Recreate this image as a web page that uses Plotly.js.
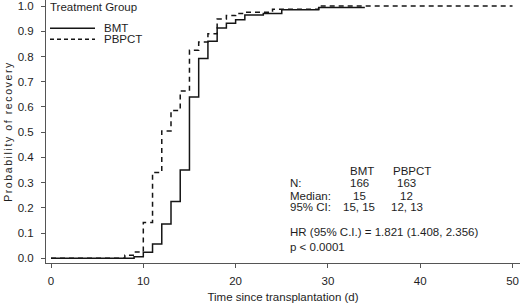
<!DOCTYPE html>
<html>
<head>
<meta charset="utf-8">
<script src="https://cdn.plot.ly/plotly-3.0.1.min.js"></script>
<style>html,body{margin:0;padding:0;background:#fff;}#chart{width:520px;height:303px;}</style>
</head>
<body>
<div id="chart"></div>
<script>
// ---- data ----
const bmtDays   = [0, 9, 10, 11, 12, 13, 14, 15, 16, 17, 18, 19, 20, 21, 23, 25, 29, 34];
const bmtProb   = [0, 0.006, 0.024, 0.057, 0.136, 0.225, 0.35, 0.639, 0.792, 0.86, 0.913, 0.932, 0.946, 0.964, 0.97, 0.985, 0.994, 0.994];
const pbpctDays = [0, 8, 9, 10, 11, 12, 13, 14, 15, 16, 17, 18, 19, 20, 21, 24, 29, 50];
const pbpctProb = [0, 0.012, 0.025, 0.142, 0.34, 0.505, 0.586, 0.663, 0.825, 0.857, 0.89, 0.948, 0.962, 0.97, 0.975, 0.987, 1.0, 1.0];
const groupNames = ['BMT', 'PBPCT'];
const statRowLabels = ['N:', 'Median:', '95% CI:'];
const bmtStats   = ['166', '15', '15, 15'];
const pbpctStats = ['163', '12', '12, 13'];
const hrText = 'HR (95% C.I.) = 1.821 (1.408, 2.356)';
const pText  = 'p < 0.0001';
const xTicks = [0, 10, 20, 30, 40, 50];
const yTicks = [0, 0.1, 0.2, 0.3, 0.4, 0.5, 0.6, 0.7, 0.8, 0.9, 1.0];

// ---- layout helpers (pixel -> paper) ----
const W = 520, H = 303, ML = 46, MR = 0, MT = 0, MB = 40;
const PW = W - ML - MR, PH = H - MT - MB;
const px = x => (x - ML) / PW;
const py = y => (H - MB - y) / PH;

const FONT = 'Liberation Sans, Arial, Helvetica, sans-serif';
const FS = 11.5;
const TXT = '#1e1e1e';
const LINE = '#151515';

const traces = [
  {x: bmtDays, y: bmtProb, name: groupNames[0], type: 'scatter', mode: 'lines',
   line: {shape: 'hv', color: LINE, width: 1.5}, showlegend: false, hoverinfo: 'skip'},
  {x: pbpctDays, y: pbpctProb, name: groupNames[1], type: 'scatter', mode: 'lines',
   line: {shape: 'hv', color: LINE, width: 1.5, dash: '5px,4px'}, showlegend: false, hoverinfo: 'skip'}
];

const ann = [];
const a = (text, x, y, xanchor) => ann.push({text, x: px(x), y: py(y), xref: 'paper', yref: 'paper',
  xanchor, yanchor: 'middle', showarrow: false, borderpad: 0, font: {family: FONT, size: FS, color: TXT}});

// legend (manual)
a('Treatment Group', 49, 6.7, 'left');
a(groupNames[0], 103, 28.3, 'left');
a(groupNames[1], 103, 39.3, 'left');
const shapes = [
  {type: 'line', xref: 'paper', yref: 'paper', x0: px(50), x1: px(95), y0: py(28.3), y1: py(28.3), line: {color: LINE, width: 1.4}},
  {type: 'line', xref: 'paper', yref: 'paper', x0: px(50), x1: px(95), y0: py(39.3), y1: py(39.3), line: {color: LINE, width: 1.4, dash: '4px,3px'}}
];

// stats block
a(groupNames[0], 362, 170.7, 'center');
a(groupNames[1], 411.5, 170.7, 'center');
const rowY = [183.3, 195.7, 207.3];
statRowLabels.forEach((t, i) => a(t, 289, rowY[i], 'left'));
bmtStats.forEach((t, i) => a(t, 359, rowY[i], 'center'));
pbpctStats.forEach((t, i) => a(t, 406.5, rowY[i], 'center'));
a(hrText, 289, 231.7, 'left');
a(pText, 289, 247.3, 'left');

const layout = {
  width: W, height: H,
  margin: {l: ML, r: MR, t: MT, b: MB, pad: 0},
  paper_bgcolor: '#fff', plot_bgcolor: '#fff',
  font: {family: FONT, size: FS, color: TXT},
  showlegend: false,
  xaxis: {
    range: [-0.542, 50.81], tickvals: xTicks, ticktext: xTicks.map(String),
    showgrid: false, zeroline: false, showline: true, linecolor: '#555', linewidth: 1,
    ticks: 'outside', ticklen: 4, tickcolor: '#555', tickwidth: 1,
    ticklabelstandoff: 3, ticklabeloverflow: 'allow',
    tickfont: {family: FONT, size: FS, color: TXT},
    title: {text: 'Time since transplantation (d)', font: {family: FONT, size: FS, color: TXT}, standoff: 7},
    automargin: false, fixedrange: true
  },
  yaxis: {
    range: [-0.0186, 1.0238], tickvals: yTicks, ticktext: yTicks.map(v => v.toFixed(1)),
    showgrid: false, zeroline: false, showline: true, linecolor: '#555', linewidth: 1,
    ticks: 'outside', ticklen: 4, tickcolor: '#555', tickwidth: 1,
    ticklabelstandoff: 5, ticklabeloverflow: 'allow',
    tickfont: {family: FONT, size: FS, color: TXT},
    title: {text: 'Probability of recovery', font: {family: FONT, size: 10.5, color: TXT}, standoff: 3},
    automargin: false, fixedrange: true
  },
  annotations: ann,
  shapes: shapes
};

Plotly.newPlot('chart', traces, layout, {displayModeBar: false, staticPlot: true}).then(() => {
  const yt = document.querySelector('.ytitle');
  if (yt) yt.style.letterSpacing = '1.6px';
});
</script>
</body>
</html>
